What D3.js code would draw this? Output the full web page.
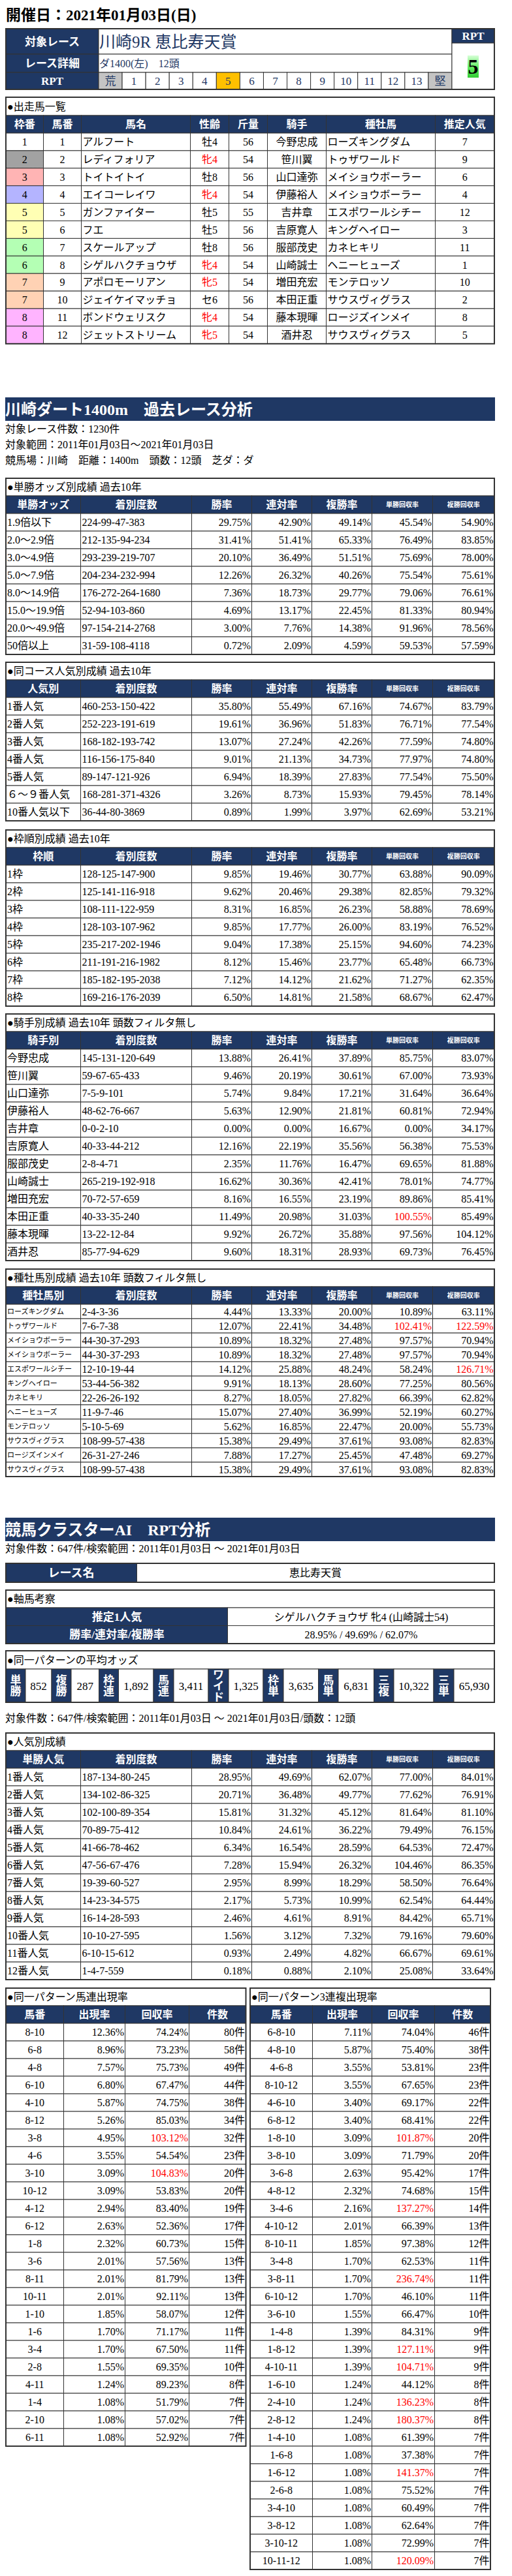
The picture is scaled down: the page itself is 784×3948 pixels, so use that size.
<!DOCTYPE html>
<html><head><meta charset="utf-8">
<script src="https://cdn.jsdelivr.net/npm/d3@7"></script>
<style>body{margin:0;background:#fff}svg{display:block}</style>
</head><body>
<svg id="c" width="784" height="3948"></svg>
<script>
// ---------------- DATA ----------------
const raceDate = "開催日：2021年01月03日(日)";
const raceName = "川崎9R 恵比寿天賞";
const raceDetail = "ダ1400(左)　12頭";
const rptScale = ["荒","1","2","3","4","5","6","7","8","9","10","11","12","13","堅"];
const rptValue = "5";

const entryWaku = [1,2,3,4,5,5,6,6,7,7,8,8];
const entryUma = [1,2,3,4,5,6,7,8,9,10,11,12];
const entryName = ["アルフート","レディフォリア","トイトイトイ","エイコーレイワ","ガンファイター","フエ","スケールアップ","シゲルハクチョウザ","アポロモーリアン","ジェイケイマッチョ","ボンドウェリスク","ジェットストリーム"];
const entrySexAge = ["牡4","牝4","牡8","牝4","牡5","牡5","牡8","牝4","牝5","セ6","牝4","牝5"];
const entryWeight = [56,54,56,54,55,56,56,54,54,56,54,54];
const entryJockey = ["今野忠成","笹川翼","山口達弥","伊藤裕人","吉井章","吉原寛人","服部茂史","山崎誠士","増田充宏","本田正重","藤本現暉","酒井忍"];
const entrySire = ["ローズキングダム","トゥザワールド","メイショウボーラー","メイショウボーラー","エスポワールシチー","キングヘイロー","カネヒキリ","ヘニーヒューズ","モンテロッソ","サウスヴィグラス","ロージズインメイ","サウスヴィグラス"];
const entryPop = [7,9,6,4,12,3,11,1,10,2,8,5];
const entryHeaders = ["枠番","馬番","馬名","性齢","斤量","騎手","種牡馬","推定人気"];

const courseInfo = ["対象レース件数：1230件","対象範囲：2011年01月03日～2021年01月03日","競馬場：川崎　距離：1400m　頭数：12頭　芝ダ：ダ"];
const statHeadersTail = ["着別度数","勝率","連対率","複勝率","単勝回収率","複勝回収率"];

const oddsRows = [
 ["1.9倍以下","224-99-47-383",29.75,42.90,49.14,45.54,54.90],
 ["2.0～2.9倍","212-135-94-234",31.41,51.41,65.33,76.49,83.85],
 ["3.0～4.9倍","293-239-219-707",20.10,36.49,51.51,75.69,78.00],
 ["5.0～7.9倍","204-234-232-994",12.26,26.32,40.26,75.54,75.61],
 ["8.0～14.9倍","176-272-264-1680",7.36,18.73,29.77,79.06,76.61],
 ["15.0～19.9倍","52-94-103-860",4.69,13.17,22.45,81.33,80.94],
 ["20.0～49.9倍","97-154-214-2768",3.00,7.76,14.38,91.96,78.56],
 ["50倍以上","31-59-108-4118",0.72,2.09,4.59,59.53,57.59]
];
const coursePopRows = [
 ["1番人気","460-253-150-422",35.80,55.49,67.16,74.67,83.79],
 ["2番人気","252-223-191-619",19.61,36.96,51.83,76.71,77.54],
 ["3番人気","168-182-193-742",13.07,27.24,42.26,77.59,74.80],
 ["4番人気","116-156-175-840",9.01,21.13,34.73,77.97,74.80],
 ["5番人気","89-147-121-926",6.94,18.39,27.83,77.54,75.50],
 ["６～９番人気","168-281-371-4326",3.26,8.73,15.93,79.45,78.14],
 ["10番人気以下","36-44-80-3869",0.89,1.99,3.97,62.69,53.21]
];
const wakuRows = [
 ["1枠","128-125-147-900",9.85,19.46,30.77,63.88,90.09],
 ["2枠","125-141-116-918",9.62,20.46,29.38,82.85,79.32],
 ["3枠","108-111-122-959",8.31,16.85,26.23,58.88,78.69],
 ["4枠","128-103-107-962",9.85,17.77,26.00,83.19,76.52],
 ["5枠","235-217-202-1946",9.04,17.38,25.15,94.60,74.23],
 ["6枠","211-191-216-1982",8.12,15.46,23.77,65.48,66.73],
 ["7枠","185-182-195-2038",7.12,14.12,21.62,71.27,62.35],
 ["8枠","169-216-176-2039",6.50,14.81,21.58,68.67,62.47]
];
const jockeyRows = [
 ["今野忠成","145-131-120-649",13.88,26.41,37.89,85.75,83.07],
 ["笹川翼","59-67-65-433",9.46,20.19,30.61,67.00,73.93],
 ["山口達弥","7-5-9-101",5.74,9.84,17.21,31.64,36.64],
 ["伊藤裕人","48-62-76-667",5.63,12.90,21.81,60.81,72.94],
 ["吉井章","0-0-2-10",0.00,0.00,16.67,0.00,34.17],
 ["吉原寛人","40-33-44-212",12.16,22.19,35.56,56.38,75.53],
 ["服部茂史","2-8-4-71",2.35,11.76,16.47,69.65,81.88],
 ["山崎誠士","265-219-192-918",16.62,30.36,42.41,78.01,74.77],
 ["増田充宏","70-72-57-659",8.16,16.55,23.19,89.86,85.41],
 ["本田正重","40-33-35-240",11.49,20.98,31.03,100.55,85.49],
 ["藤本現暉","13-22-12-84",9.92,26.72,35.88,97.56,104.12],
 ["酒井忍","85-77-94-629",9.60,18.31,28.93,69.73,76.45]
];
const sireRows = [
 ["ローズキングダム","2-4-3-36",4.44,13.33,20.00,10.89,63.11],
 ["トゥザワールド","7-6-7-38",12.07,22.41,34.48,102.41,122.59],
 ["メイショウボーラー","44-30-37-293",10.89,18.32,27.48,97.57,70.94],
 ["メイショウボーラー","44-30-37-293",10.89,18.32,27.48,97.57,70.94],
 ["エスポワールシチー","12-10-19-44",14.12,25.88,48.24,58.24,126.71],
 ["キングヘイロー","53-44-56-382",9.91,18.13,28.60,77.25,80.56],
 ["カネヒキリ","22-26-26-192",8.27,18.05,27.82,66.39,62.82],
 ["ヘニーヒューズ","11-9-7-46",15.07,27.40,36.99,52.19,60.27],
 ["モンテロッソ","5-10-5-69",5.62,16.85,22.47,20.00,55.73],
 ["サウスヴィグラス","108-99-57-438",15.38,29.49,37.61,93.08,82.83],
 ["ロージズインメイ","26-31-27-246",7.88,17.27,25.45,47.48,69.27],
 ["サウスヴィグラス","108-99-57-438",15.38,29.49,37.61,93.08,82.83]
];
const aiInfo = "対象件数：647件/検索範囲：2011年01月03日 ～ 2021年01月03日";
const aiInfo2 = "対象件数：647件/検索範囲：2011年01月03日 ～ 2021年01月03日/頭数：12頭";
const axisHorse = "シゲルハクチョウザ 牝4 (山崎誠士54)";
const axisRates = "28.95% / 49.69% / 62.07%";
const oddsLabels = ["単勝","複勝","枠連","馬連","ワイド","枠単","馬単","三複","三単"];
const oddsValues = [852,287,1892,3411,1325,3635,6831,10322,65930];
const popRows = [
 ["1番人気","187-134-80-245",28.95,49.69,62.07,77.00,84.01],
 ["2番人気","134-102-86-325",20.71,36.48,49.77,77.62,76.91],
 ["3番人気","102-100-89-354",15.81,31.32,45.12,81.64,81.10],
 ["4番人気","70-89-75-412",10.84,24.61,36.22,79.49,76.15],
 ["5番人気","41-66-78-462",6.34,16.54,28.59,64.53,72.47],
 ["6番人気","47-56-67-476",7.28,15.94,26.32,104.46,86.35],
 ["7番人気","19-39-60-527",2.95,8.99,18.29,58.50,76.64],
 ["8番人気","14-23-34-575",2.17,5.73,10.99,62.54,64.44],
 ["9番人気","16-14-28-593",2.46,4.61,8.91,84.42,65.71],
 ["10番人気","10-10-27-595",1.56,3.12,7.32,79.16,79.60],
 ["11番人気","6-10-15-612",0.93,2.49,4.82,66.67,69.61],
 ["12番人気","1-4-7-559",0.18,0.88,2.10,25.08,33.64]
];
const umarenRows = [
 ["8-10",12.36,74.24,80],["6-8",8.96,73.23,58],["4-8",7.57,75.73,49],["6-10",6.80,67.47,44],
 ["4-10",5.87,74.75,38],["8-12",5.26,85.03,34],["3-8",4.95,103.12,32],["4-6",3.55,54.54,23],
 ["3-10",3.09,104.83,20],["10-12",3.09,53.83,20],["4-12",2.94,83.40,19],["6-12",2.63,52.36,17],
 ["1-8",2.32,60.73,15],["3-6",2.01,57.56,13],["8-11",2.01,81.79,13],["10-11",2.01,92.11,13],
 ["1-10",1.85,58.07,12],["1-6",1.70,71.17,11],["3-4",1.70,67.50,11],["2-8",1.55,69.35,10],
 ["4-11",1.24,89.23,8],["1-4",1.08,51.79,7],["2-10",1.08,57.02,7],["6-11",1.08,52.92,7]
];
const sanrenRows = [
 ["6-8-10",7.11,74.04,46],["4-8-10",5.87,75.40,38],["4-6-8",3.55,53.81,23],["8-10-12",3.55,67.65,23],
 ["4-6-10",3.40,69.17,22],["6-8-12",3.40,68.41,22],["1-8-10",3.09,101.87,20],["3-8-10",3.09,71.79,20],
 ["3-6-8",2.63,95.42,17],["4-8-12",2.32,74.68,15],["3-4-6",2.16,137.27,14],["4-10-12",2.01,66.39,13],
 ["8-10-11",1.85,97.38,12],["3-4-8",1.70,62.53,11],["3-8-11",1.70,236.74,11],["6-10-12",1.70,46.10,11],
 ["3-6-10",1.55,66.47,10],["1-4-8",1.39,84.31,9],["1-8-12",1.39,127.11,9],["4-10-11",1.39,104.71,9],
 ["1-6-10",1.24,44.12,8],["2-4-10",1.24,136.23,8],["2-8-12",1.24,180.37,8],["1-4-10",1.08,61.39,7],
 ["1-6-8",1.08,37.38,7],["1-6-12",1.08,141.37,7],["2-6-8",1.08,75.52,7],["3-4-10",1.08,60.49,7],
 ["3-8-12",1.08,62.64,7],["3-10-12",1.08,72.99,7],["10-11-12",1.08,120.09,7]
];
const pairHeaders = ["馬番","出現率","回収率","件数"];
// cells above 100% that the source leaves black
const plainHighCells = [["jockey",10,6],["pop",5,5]];

// ---------------- DRAW ----------------
const svg = d3.select("#c");
const FONT = "'Liberation Serif','Noto Sans CJK JP',serif";
const SANS = "'Noto Sans CJK JP',sans-serif";
const NAVY = "#1f3864", LINE = "#333";
const pct = v => d3.format(".2f")(v) + "%";
const num = d3.format(",");

const defs = svg.append("defs");
function dotPattern(id, bg, fg){
  const p = defs.append("pattern").attr("id", id).attr("width",2).attr("height",2).attr("patternUnits","userSpaceOnUse");
  p.append("rect").attr("width",2).attr("height",2).attr("fill",bg);
  p.append("rect").attr("width",1).attr("height",1).attr("fill",fg);
  p.append("rect").attr("x",1).attr("y",1).attr("width",1).attr("height",1).attr("fill",fg);
}
dotPattern("g1","#b8b8b8","#8c8c8c");
dotPattern("g2","#d8d8d8","#b0b0b0");
const gr = defs.append("linearGradient").attr("id","grn").attr("x1",0).attr("y1",0).attr("x2",0).attr("y2",1);
gr.append("stop").attr("offset","0").attr("stop-color","#d8ffd8");
gr.append("stop").attr("offset","0.5").attr("stop-color","#66ee66");
gr.append("stop").attr("offset","1").attr("stop-color","#33cc33");

function txt(g, x, y, s, o = {}) {
  return g.append("text").attr("x", x).attr("y", y).text(s)
    .attr("font-family", o.family || FONT).attr("font-size", o.size || 16)
    .attr("font-weight", o.weight || "normal").attr("fill", o.fill || "#000")
    .attr("text-anchor", o.anchor || "start");
}
function box(g, x0, y0, x1, y1, fill, sw) {
  return g.append("rect").attr("x", x0).attr("y", y0).attr("width", x1 - x0).attr("height", y1 - y0)
    .attr("fill", fill || "none").attr("stroke", LINE).attr("stroke-width", sw || 1);
}
function mid(y0, h, size) { return y0 + h / 2 + size * 0.36; }

// title
txt(svg, 9, 31, raceDate, {size: 23, weight: "bold"});

// header table
{
  const g = svg.append("g");
  const ys = [44, 83, 111, 137];
  const labels = ["対象レース","レース詳細","RPT"];
  labels.forEach((l, i) => {
    box(g, 9, ys[i], 151, ys[i+1], NAVY);
    txt(g, 80, mid(ys[i], ys[i+1]-ys[i], 17), l, {size: 17, weight: "bold", fill: "#fff", anchor: "middle"});
  });
  box(g, 151, ys[0], 692, ys[1], "#fff");
  txt(g, 152, mid(ys[0], ys[1]-ys[0], 25), raceName, {size: 25, fill: NAVY});
  box(g, 151, ys[1], 692, ys[2], "#fff");
  txt(g, 152, mid(ys[1], ys[2]-ys[1], 16), raceDetail, {size: 16, fill: NAVY});
  const xb = d3.scaleBand().domain(rptScale).range([151, 692]);
  rptScale.forEach(s => {
    const fill = (s === "荒" || s === "堅") ? "url(#g2)" : (s === rptValue ? "#ffc000" : "#fff");
    box(g, xb(s), ys[2], xb(s) + xb.bandwidth(), ys[3], fill);
    txt(g, xb(s) + xb.bandwidth()/2, mid(ys[2], ys[3]-ys[2], 17), s, {size: 17, fill: NAVY, anchor: "middle"});
  });
  box(g, 692, 44, 757, 66, NAVY);
  txt(g, 724.5, mid(44, 22, 17), "RPT", {size: 17, weight: "bold", fill: "#fff", anchor: "middle"});
  box(g, 692, 66, 757, 137, "#fff");
  g.append("rect").attr("x", 716).attr("y", 85).attr("width", 17).attr("height", 34).attr("fill", "url(#grn)");
  txt(g, 724.5, 113, rptValue, {size: 32, weight: "bold", anchor: "middle"});
  box(g, 9, 44, 757, 137, "none", 2);
}

// entries table
{
  const g = svg.append("g");
  const edges = [9, 66.5, 124.5, 291.5, 350.5, 409.5, 499.5, 666.5, 757];
  const top = 149, tH = 28, hH = 27;
  const wakuFill = {1:"#ffffff",2:"url(#g1)",3:"#ffb4b4",4:"#b4b4ff",5:"#ffffb4",6:"#b4ffb4",7:"#ffd2b4",8:"#ffb4ff"};
  box(g, 9, top, 757, top + tH, "#fff");
  txt(g, 11, mid(top, tH, 16), "●出走馬一覧", {size: 16});
  entryHeaders.forEach((h, i) => {
    box(g, edges[i], top + tH, edges[i+1], top + tH + hH, NAVY);
    txt(g, (edges[i] + edges[i+1]) / 2, mid(top + tH, hH, 16), h, {size: 16, weight: "bold", fill: "#fff", anchor: "middle"});
  });
  const y = d3.scaleBand().domain(d3.range(entryUma.length)).range([top + tH + hH, top + tH + hH + 26.9 * entryUma.length]);
  const rh = y.bandwidth();
  entryUma.forEach((u, r) => {
    const cells = [entryWaku[r], u, entryName[r], entrySexAge[r], entryWeight[r], entryJockey[r], entrySire[r], entryPop[r]];
    const align = ["c","c","l","c","c","c","l","c"];
    cells.forEach((v, c) => {
      box(g, edges[c], y(r), edges[c+1], y(r) + rh, c === 0 ? wakuFill[entryWaku[r]] : "#fff");
      const x = align[c] === "l" ? edges[c] + 2 : (edges[c] + edges[c+1]) / 2;
      const red = c === 3 && String(v).startsWith("牝");
      txt(g, x, mid(y(r), rh, 16), v, {size: 16, anchor: align[c] === "l" ? "start" : "middle", fill: red ? "#ff0000" : "#000"});
    });
  });
  box(g, 9, top, 757, top + tH + hH + 26.9 * entryUma.length, "none", 2);
}

// section bar
function bar(top, s) {
  svg.append("rect").attr("x", 8).attr("y", top).attr("width", 750).attr("height", 36).attr("fill", NAVY);
  txt(svg, 8, top + 27, s, {size: 24, weight: "bold", fill: "#fff"});
}
bar(609, "川崎ダート1400m　過去レース分析");
courseInfo.forEach((s, i) => txt(svg, 8, 663 + 24 * i, s, {size: 16}));

// stat tables
const statEdges = [9, 123.5, 293.5, 385.5, 477.5, 569.5, 662.5, 757];
function statTable(key, top, title, firstHead, rows, rowH, firstSmall) {
  const g = svg.append("g");
  const tH = 27, hH = 27;
  box(g, 9, top, 757, top + tH, "#fff");
  txt(g, 11, mid(top, tH, 16), title, {size: 16});
  const heads = [firstHead].concat(statHeadersTail);
  heads.forEach((h, i) => {
    box(g, statEdges[i], top + tH, statEdges[i+1], top + tH + hH, NAVY);
    const small = i >= 5;
    txt(g, (statEdges[i] + statEdges[i+1]) / 2, mid(top + tH, hH, small ? 10 : 16), h,
      {size: small ? 10 : 16, weight: "bold", fill: "#fff", anchor: "middle"});
  });
  const y0 = top + tH + hH;
  const y = d3.scaleBand().domain(d3.range(rows.length)).range([y0, y0 + rowH * rows.length]);
  rows.forEach((row, r) => {
    row.forEach((v, c) => {
      box(g, statEdges[c], y(r), statEdges[c+1], y(r) + rowH, "#fff");
      if (c < 2) {
        const sm = c === 0 && firstSmall;
        txt(g, statEdges[c] + 2, mid(y(r), rowH, sm ? 11 : 16), v, sm ? {size: 11, family: SANS} : {size: 16});
      } else {
        const plain = plainHighCells.some(p => p[0] === key && p[1] === r && p[2] === c);
        txt(g, statEdges[c+1] - 1.5, mid(y(r), rowH, 16), pct(v),
          {size: 16, anchor: "end", fill: (v >= 100 && !plain) ? "#ff0000" : "#000"});
      }
    });
  });
  box(g, 9, top, 757, y0 + rowH * rows.length, "none", 2);
}
statTable("odds", 733, "●単勝オッズ別成績 過去10年", "単勝オッズ", oddsRows, 27);
statTable("cpop", 1015, "●同コース人気別成績 過去10年", "人気別", coursePopRows, 27);
statTable("waku", 1272, "●枠順別成績 過去10年", "枠順", wakuRows, 27);
statTable("jockey", 1554, "●騎手別成績 過去10年 頭数フィルタ無し", "騎手別", jockeyRows, 27);
statTable("sire", 1945, "●種牡馬別成績 過去10年 頭数フィルタ無し", "種牡馬別", sireRows, 22, true);

bar(2326, "競馬クラスターAI　RPT分析");
txt(svg, 8, 2379, aiInfo, {size: 16});

// race name table
{
  const g = svg.append("g");
  box(g, 9, 2396, 209.5, 2425, NAVY);
  txt(g, 109, mid(2396, 29, 18), "レース名", {size: 18, weight: "bold", fill: "#fff", anchor: "middle"});
  box(g, 209.5, 2396, 757, 2425, "#fff");
  txt(g, 483, mid(2396, 29, 16), raceName.split(" ")[1], {size: 16, anchor: "middle"});
  box(g, 9, 2396, 757, 2425, "none", 2);
}
// axis horse
{
  const g = svg.append("g");
  box(g, 9, 2437, 757, 2464, "#fff");
  txt(g, 11, mid(2437, 27, 16), "●軸馬考察", {size: 16});
  const rows = [["推定1人気", axisHorse], ["勝率/連対率/複勝率", axisRates]];
  const y = d3.scaleBand().domain(d3.range(rows.length)).range([2464, 2519]);
  rows.forEach((r, i) => {
    box(g, 9, y(i), 348.5, y(i) + y.bandwidth(), NAVY);
    txt(g, 179, mid(y(i), y.bandwidth(), 17), r[0], {size: 17, weight: "bold", fill: "#fff", anchor: "middle"});
    box(g, 348.5, y(i), 757, y(i) + y.bandwidth(), "#fff");
    txt(g, 553, mid(y(i), y.bandwidth(), 16), r[1], {size: 16, anchor: "middle"});
  });
  box(g, 9, 2437, 757, 2519, "none", 2);
}
// average odds
{
  const g = svg.append("g");
  box(g, 9, 2530, 757, 2558, "#fff");
  txt(g, 11, mid(2530, 28, 16), "●同一パターンの平均オッズ", {size: 16});
  const edges = [9, 39, 79, 109, 151.5, 181.5, 235, 266, 319, 350, 403, 434, 487.5, 518, 572.5, 603, 664, 695, 757];
  const y0 = 2558, h = 51;
  oddsLabels.forEach((l, i) => {
    const a = edges[2*i], b = edges[2*i+1], c = edges[2*i+2];
    box(g, a, y0, b, y0 + h, NAVY);
    const chars = Array.from(l);
    const cy = d3.scalePoint().domain(d3.range(chars.length)).range([y0 + h/2 - (chars.length - 1) * 8.5, y0 + h/2 + (chars.length - 1) * 8.5]);
    chars.forEach((ch, k) => txt(g, (a + b) / 2, cy(k) + 6, ch, {size: 17, weight: "bold", fill: "#fff", anchor: "middle", family: SANS}));
    box(g, b, y0, c, y0 + h, "#fff");
    txt(g, (b + c) / 2, mid(y0, h, 17), num(oddsValues[i]), {size: 17, anchor: "middle"});
  });
  box(g, 9, 2530, 757, y0 + h, "none", 2);
}
txt(svg, 8, 2639, aiInfo2, {size: 16});
statTable("pop", 2656, "●人気別成績", "単勝人気", popRows, 27);

// pair tables
function pairTable(edges, top, title, rows) {
  const g = svg.append("g");
  const tH = 27, hH = 27, rowH = 27;
  const x0 = edges[0], x1 = edges[edges.length - 1];
  box(g, x0, top, x1, top + tH, "#fff");
  txt(g, x0 + 2, mid(top, tH, 16), title, {size: 16});
  pairHeaders.forEach((h, i) => {
    box(g, edges[i], top + tH, edges[i+1], top + tH + hH, NAVY);
    txt(g, (edges[i] + edges[i+1]) / 2, mid(top + tH, hH, 16), h, {size: 16, weight: "bold", fill: "#fff", anchor: "middle"});
  });
  const y0 = top + tH + hH;
  const y = d3.scaleBand().domain(d3.range(rows.length)).range([y0, y0 + rowH * rows.length]);
  rows.forEach((row, r) => {
    const vals = [row[0], pct(row[1]), pct(row[2]), row[3] + "件"];
    vals.forEach((v, c) => {
      box(g, edges[c], y(r), edges[c+1], y(r) + rowH, "#fff");
      const center = c === 0;
      txt(g, center ? (edges[c] + edges[c+1]) / 2 : edges[c+1] - 1.5, mid(y(r), rowH, 16), v,
        {size: 16, anchor: center ? "middle" : "end", fill: (c === 2 && row[2] >= 100) ? "#ff0000" : "#000"});
    });
  });
  box(g, x0, top, x1, y0 + rowH * rows.length, "none", 2);
}
pairTable([9, 97.5, 191.5, 289.5, 376.5], 3047, "●同一パターン馬連出現率", umarenRows);
pairTable([383, 478.5, 569.5, 665.5, 751], 3047, "●同一パターン3連複出現率", sanrenRows);
</script>
</body></html>
